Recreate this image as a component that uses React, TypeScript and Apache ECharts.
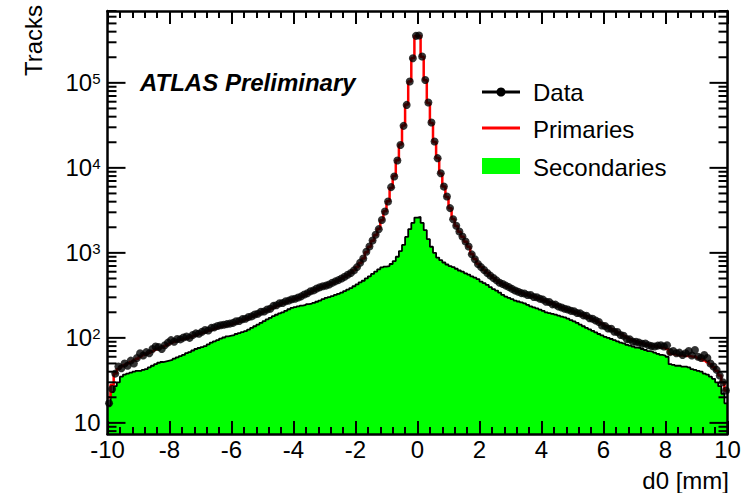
import React, { useEffect, useRef } from "react";
import * as echarts from "echarts";

// Histogram binning: 200 bins of 0.1 mm from -10 to 10
const BIN_LO = -10;
const BIN_W = 0.1;

// Data (black points), one value per bin
const dataCounts = [
  17, 25, 38, 46, 44, 50, 47, 54, 50, 58,
  66, 62, 68, 66, 74, 79, 78, 74, 82, 88,
  94, 90, 97, 96, 101, 104, 100, 108, 113, 112,
  118, 124, 122, 131, 133, 138, 141, 143, 145, 147,
  150, 157, 158, 166, 168, 176, 179, 188, 192, 203,
  204, 216, 220, 238, 242, 256, 257, 270, 274, 285,
  288, 298, 308, 324, 335, 354, 362, 380, 394, 404,
  412, 425, 446, 462, 478, 500, 524, 552, 580, 622,
  680, 765, 860, 1030, 1190, 1400, 1630, 1900, 2440, 3060,
  4020, 5930, 7900, 12200, 18600, 31200, 55000, 103500, 195000, 357000,
  360000, 204000, 108000, 58600, 34100, 20400, 13000, 8650, 6020, 4600,
  3360, 2490, 2080, 1780, 1560, 1360, 1190, 960, 840, 740,
  680, 630, 580, 540, 505, 475, 445, 430, 412, 395,
  377, 360, 348, 336, 332, 320, 320, 303, 300, 288,
  282, 266, 264, 248, 246, 234, 228, 220, 216, 208,
  206, 196, 194, 184, 182, 170, 168, 160, 154, 140,
  138, 129, 128, 118, 117, 108, 106, 97, 96, 90,
  90, 88, 85, 86, 82, 80, 79, 81, 82, 79,
  82, 68, 70, 66, 67, 63, 66, 70, 62, 72,
  60, 58, 63, 58, 50, 46, 42, 36, 30, 24,
];

// Primaries (red line, total simulation)
const primariesCounts = [
  20, 28, 38, 43, 46, 48, 50, 52, 54, 57,
  60, 63, 65, 67, 70, 73, 75, 77, 80, 84,
  87, 90, 93, 95, 97, 99, 102, 105, 108, 111,
  114, 117, 121, 125, 128, 132, 135, 138, 141, 144,
  147, 151, 156, 160, 165, 171, 177, 183, 190, 197,
  204, 211, 219, 228, 237, 246, 255, 263, 271, 279,
  287, 295, 305, 317, 330, 344, 358, 372, 386, 398,
  410, 424, 440, 458, 476, 498, 522, 550, 582, 625,
  680, 760, 860, 1020, 1180, 1390, 1620, 1920, 2420, 3080,
  4050, 5800, 8000, 12300, 18800, 31500, 55500, 104000, 196000, 355000,
  358000, 203000, 107000, 58000, 33800, 20200, 13100, 8600, 6050, 4550,
  3350, 2500, 2070, 1770, 1550, 1350, 1180, 970, 845, 745,
  682, 628, 582, 542, 505, 474, 447, 428, 410, 393,
  376, 362, 349, 338, 329, 320, 312, 304, 296, 288,
  279, 270, 261, 252, 244, 236, 228, 221, 214, 208,
  202, 196, 190, 184, 178, 172, 166, 160, 153, 146,
  139, 133, 127, 121, 116, 111, 106, 101, 97, 94,
  91, 88, 86, 84, 82, 80, 79, 78, 77, 76,
  74, 65, 64, 63, 62, 62, 61, 61, 60, 60,
  58, 56, 54, 52, 49, 45, 41, 36, 30, 24,
];

// Secondaries (green filled histogram)
const secondariesCounts = [
  16, 23, 27, 30, 35, 37, 38, 39, 40, 41,
  41, 42, 43, 45, 47, 49, 51, 52, 53, 54,
  55, 57, 59, 61, 63, 66, 68, 71, 74, 76,
  78, 80, 84, 88, 91, 94, 98, 101, 104, 106,
  108, 111, 114, 117, 120, 125, 131, 137, 143, 150,
  157, 165, 172, 180, 187, 194, 200, 208, 217, 225,
  230, 235, 240, 244, 249, 253, 258, 266, 275, 285,
  295, 302, 310, 320, 330, 340, 355, 370, 385, 405,
  425, 450, 470, 500, 530, 565, 600, 640, 675, 690,
  700, 740, 800, 900, 1050, 1240, 1540, 1900, 2250, 2600,
  2650, 2250, 1850, 1450, 1180, 1000, 880, 820, 770, 730,
  700, 680, 650, 620, 600, 575, 555, 530, 510, 490,
  460, 440, 420, 395, 375, 360, 340, 320, 305, 295,
  285, 275, 268, 262, 255, 245, 235, 228, 222, 215,
  208, 200, 196, 192, 188, 183, 178, 174, 168, 162,
  156, 150, 143, 137, 131, 126, 121, 116, 111, 107,
  103, 100, 97, 94, 91, 88, 86, 83, 81, 79,
  77, 76, 74, 72, 70, 69, 67, 65, 63, 62,
  60, 49, 48, 47, 47, 46, 46, 45, 43, 42,
  41, 40, 38, 37, 35, 33, 30, 27, 22, 17,
];

// Axis ticks
const xTickLabels = [-10, -8, -6, -4, -2, 0, 2, 4, 6, 8, 10];
const yMajorTicks = [10, 100, 1000, 10000, 100000];
const yMinorTicks = [
  8, 9,
  20, 30, 40, 50, 60, 70, 80, 90,
  200, 300, 400, 500, 600, 700, 800, 900,
  2000, 3000, 4000, 5000, 6000, 7000, 8000, 9000,
  20000, 30000, 40000, 50000, 60000, 70000, 80000, 90000,
  200000, 300000, 400000, 500000, 600000, 700000,
];
const Y_MIN = 7.4;
const Y_MAX = 700000;

const FONT = '"Liberation Sans", Arial, Helvetica, sans-serif';

function stepPoints(counts: number[]) {
  const pts: number[][] = [];
  counts.forEach((v, i) => {
    const lo = BIN_LO + BIN_W * i;
    pts.push([lo, v]);
    pts.push([lo + BIN_W, v]);
  });
  return pts;
}

function tickSeries(vals: number[], len: number, withLabel: boolean) {
  return {
    type: "custom",
    coordinateSystem: "cartesian2d",
    xAxisIndex: 0,
    yAxisIndex: 0,
    z: 10,
    silent: true,
    clip: false,
    data: vals.map((v) => [BIN_LO, v]),
    renderItem: (params: any, api: any) => {
      const cs = params.coordSys;
      const y = api.coord([api.value(0), api.value(1)])[1];
      const children: any[] = [
        { type: "line", shape: { x1: cs.x, y1: y, x2: cs.x + len, y2: y }, style: { stroke: "#000", lineWidth: 2 } },
        { type: "line", shape: { x1: cs.x + cs.width, y1: y, x2: cs.x + cs.width - len, y2: y }, style: { stroke: "#000", lineWidth: 2 } },
      ];
      if (withLabel) {
        const e = Math.round(Math.log10(api.value(1)));
        children.push({
          type: "text",
          x: cs.x - 7,
          y: y,
          style: {
            text: e === 1 ? "{b|10}" : `{b|10}{s|${e}}`,
            rich: {
              b: { fontSize: 24, fontFamily: FONT, fill: "#000" },
              s: { fontSize: 15, fontFamily: FONT, fill: "#000", verticalAlign: "top" },
            },
            align: "right",
            verticalAlign: "middle",
            fontSize: 24,
            fontFamily: FONT,
            fill: "#000",
          },
        });
      }
      return { type: "group", children };
    },
  };
}

const xAxisCommon = {
  type: "value",
  min: xTickLabels[0],
  max: xTickLabels[xTickLabels.length - 1],
  interval: 2,
  z: 10,
  axisLine: { show: true, onZero: false, lineStyle: { color: "#000", width: 2.5 } },
  axisTick: { show: true, inside: true, length: 13, lineStyle: { color: "#000", width: 2 } },
  minorTick: { show: true, splitNumber: 5, length: 7, lineStyle: { color: "#000", width: 2 } },
  splitLine: { show: false },
  minorSplitLine: { show: false },
};

const yAxisCommon = {
  type: "log",
  logBase: 10,
  min: Y_MIN,
  max: Y_MAX,
  z: 10,
  axisLine: { show: true, onZero: false, lineStyle: { color: "#000", width: 2.5 } },
  axisTick: { show: false },
  minorTick: { show: false },
  axisLabel: { show: false },
  splitLine: { show: false },
  minorSplitLine: { show: false },
};

export default function App() {
  const ref = useRef<HTMLDivElement>(null);
  useEffect(() => {
    if (!ref.current) return;
    const chart = echarts.init(ref.current, undefined, { renderer: "svg" });
    const centers = dataCounts.map((_, i) => BIN_LO + BIN_W * (i + 0.5));
    const option: any = {
      animation: false,
      backgroundColor: "#fff",
      grid: { left: 107.5, top: 11, width: 620, height: 423 },
      xAxis: [
        {
          ...xAxisCommon,
          position: "bottom",
          axisLabel: { show: true, color: "#000", fontSize: 24, fontFamily: FONT, margin: 3 },
        },
        { ...xAxisCommon, position: "top", axisLabel: { show: false } },
      ],
      yAxis: [
        { ...yAxisCommon, position: "left" },
        { ...yAxisCommon, position: "right" },
      ],
      series: [
        {
          name: "Secondaries",
          type: "line",
          data: stepPoints(secondariesCounts),
          symbol: "none",
          lineStyle: { color: "#000", width: 1.8 },
          areaStyle: { color: "#00ff00", opacity: 1, origin: "start" },
          z: 2,
        },
        {
          name: "Primaries",
          type: "line",
          data: stepPoints(primariesCounts),
          symbol: "none",
          lineStyle: { color: "#ff0000", width: 2.5 },
          z: 3,
        },
        {
          name: "Data",
          type: "scatter",
          data: centers.map((c, i) => [c, dataCounts[i]]),
          symbol: "circle",
          symbolSize: 8,
          itemStyle: { color: "#000" },
          z: 4,
        },
        tickSeries(yMajorTicks, 18, true),
        tickSeries(yMinorTicks, 9, false),
      ],
      graphic: [
        {
          type: "text",
          x: 33,
          y: 5,
          rotation: Math.PI / 2,
          style: { text: "Tracks", fontSize: 24, fontFamily: FONT, fill: "#000", align: "right", verticalAlign: "middle", textAlign: "right", textVerticalAlign: "middle" },
        },
        {
          type: "text",
          x: 729,
          y: 480,
          style: { text: "d0 [mm]", fontSize: 24, fontFamily: FONT, fill: "#000", align: "right", verticalAlign: "middle", textAlign: "right", textVerticalAlign: "middle" },
        },
        {
          type: "text",
          x: 140,
          y: 82,
          style: { text: "ATLAS Preliminary", fontSize: 24, fontWeight: "bold", fontStyle: "italic", fontFamily: FONT, fill: "#000", align: "left", verticalAlign: "middle", textAlign: "left", textVerticalAlign: "middle" },
        },
        // Legend
        { type: "line", shape: { x1: 482, y1: 92, x2: 520, y2: 92 }, style: { stroke: "#000", lineWidth: 3 } },
        { type: "circle", shape: { cx: 501, cy: 92, r: 4.5 }, style: { fill: "#000" } },
        { type: "text", x: 533, y: 92, style: { text: "Data", fontSize: 24, fontFamily: FONT, fill: "#000", verticalAlign: "middle", textVerticalAlign: "middle" } },
        { type: "line", shape: { x1: 482, y1: 128, x2: 520, y2: 128 }, style: { stroke: "#ff0000", lineWidth: 3 } },
        { type: "text", x: 533, y: 129, style: { text: "Primaries", fontSize: 24, fontFamily: FONT, fill: "#000", verticalAlign: "middle", textVerticalAlign: "middle" } },
        { type: "rect", shape: { x: 482, y: 158, width: 38, height: 16 }, style: { fill: "#00ff00" } },
        { type: "text", x: 533, y: 167, style: { text: "Secondaries", fontSize: 24, fontFamily: FONT, fill: "#000", verticalAlign: "middle", textVerticalAlign: "middle" } },
      ],
    };
    chart.setOption(option);
    return () => chart.dispose();
  }, []);
  return <div ref={ref} style={{ position: "absolute", left: 0, top: 0, width: 753, height: 493 }} />;
}
